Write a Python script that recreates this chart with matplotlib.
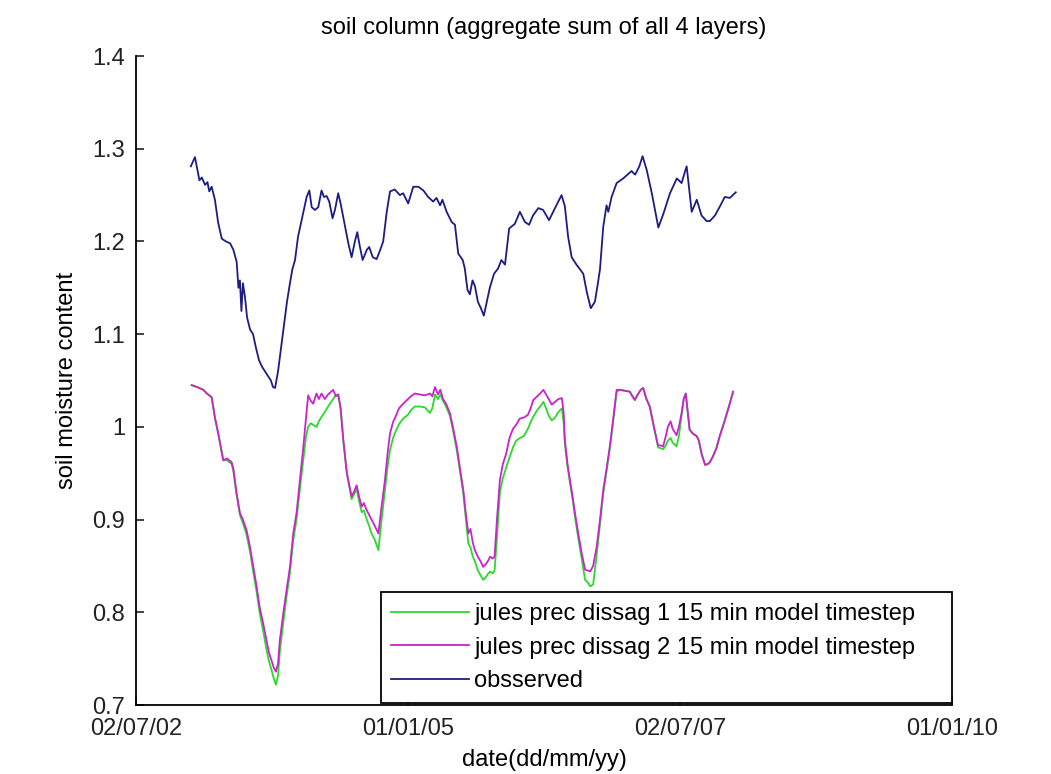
import numpy as np
import matplotlib.pyplot as plt
import matplotlib.dates as mdates

plt.rcParams['font.family'] = ['Liberation Sans', 'DejaVu Sans']

# days since 01/01/2003
obs_days = [1, 15, 30, 38, 49, 57, 63, 71, 82, 93,
            105, 119, 133, 144, 155, 161, 166, 171, 176, 183,
            190, 200, 210, 220, 230, 240, 250, 260, 270, 277,
            284, 294, 304, 314, 324, 334, 342, 351, 361, 373,
            381, 390, 399, 407, 418, 429, 440, 448, 457, 466,
            477, 485, 496, 504, 519, 530, 541, 552, 560, 569,
            578, 592, 600, 612, 625, 636, 647, 659, 670, 686,
            703, 714, 731, 748, 765, 782, 798, 815, 826, 838,
            846, 860, 877, 888, 899, 914, 921, 930, 938, 947,
            955, 965, 975, 985, 995, 1005, 1019, 1033, 1044, 1056,
            1070, 1089, 1106, 1123, 1137, 1150, 1168, 1184, 1204, 1224,
            1246, 1257, 1268, 1280, 1296, 1308, 1319, 1331, 1344, 1358,
            1368, 1375, 1386, 1397, 1403, 1414, 1431, 1453, 1481, 1493,
            1507, 1518, 1532, 1549, 1571, 1588, 1610, 1633, 1649, 1660,
            1666, 1675, 1683, 1700, 1716, 1733, 1744, 1761, 1778, 1794,
            1811, 1831]
obs_vals = [1.281, 1.291, 1.266, 1.269, 1.261, 1.264, 1.254, 1.259, 1.245, 1.220,
            1.203, 1.200, 1.198, 1.191, 1.178, 1.150, 1.158, 1.125, 1.155, 1.140,
            1.118, 1.105, 1.100, 1.085, 1.072, 1.065, 1.060, 1.055, 1.050, 1.043,
            1.042, 1.060, 1.085, 1.110, 1.135, 1.155, 1.170, 1.180, 1.205, 1.223,
            1.235, 1.248, 1.255, 1.237, 1.234, 1.237, 1.255, 1.248, 1.249, 1.243,
            1.225, 1.234, 1.252, 1.241, 1.216, 1.198, 1.183, 1.200, 1.210, 1.194,
            1.180, 1.191, 1.194, 1.183, 1.181, 1.190, 1.200, 1.232, 1.254, 1.256,
            1.250, 1.252, 1.241, 1.259, 1.259, 1.255, 1.248, 1.243, 1.247, 1.239,
            1.245, 1.232, 1.221, 1.218, 1.187, 1.180, 1.171, 1.148, 1.143, 1.158,
            1.152, 1.135, 1.128, 1.120, 1.135, 1.150, 1.165, 1.171, 1.180, 1.175,
            1.214, 1.219, 1.232, 1.221, 1.218, 1.228, 1.236, 1.234, 1.223, 1.236,
            1.250, 1.238, 1.205, 1.183, 1.175, 1.170, 1.165, 1.145, 1.128, 1.135,
            1.155, 1.170, 1.216, 1.239, 1.232, 1.248, 1.263, 1.268, 1.276, 1.272,
            1.281, 1.292, 1.277, 1.252, 1.215, 1.230, 1.252, 1.268, 1.263, 1.275,
            1.281, 1.255, 1.232, 1.245, 1.228, 1.222, 1.222, 1.228, 1.238, 1.248,
            1.247, 1.253]

mod_days = [4, 22, 43, 55, 71, 82, 93, 110, 122, 138,
            144, 154, 166, 176, 188, 200, 211, 222, 232, 244,
            255, 263, 272, 280, 287, 294, 300, 312, 323, 334,
            345, 356, 368, 379, 388, 395, 404, 412, 423, 431,
            440, 451, 462, 479, 488, 496, 504, 513, 525, 541,
            549, 558, 566, 575, 582, 592, 600, 608, 619, 631,
            640, 653, 663, 670, 680, 690, 700, 714, 730, 740,
            753, 770, 787, 804, 812, 821, 831, 839, 848, 858,
            871, 881, 894, 905, 916, 925, 933, 940, 948, 955,
            965, 974, 983, 992, 1000, 1006, 1015, 1021, 1029, 1039,
            1049, 1059, 1072, 1083, 1093, 1106, 1119, 1133, 1142, 1151,
            1164, 1174, 1185, 1194, 1203, 1213, 1224, 1235, 1247, 1253,
            1257, 1266, 1274, 1283, 1291, 1302, 1314, 1325, 1335, 1342,
            1352, 1364, 1375, 1386, 1397, 1408, 1420, 1431, 1442, 1459,
            1475, 1484, 1492, 1502, 1512, 1520, 1531, 1542, 1556, 1570,
            1579, 1587, 1596, 1603, 1612, 1619, 1632, 1640, 1649, 1656,
            1663, 1670, 1676, 1686, 1700, 1707, 1717, 1728, 1737, 1744,
            1754, 1766, 1777, 1794, 1808, 1822]
dissag1_vals = [1.045, 1.043, 1.040, 1.036, 1.032, 1.010, 0.993, 0.964, 0.964, 0.960,
                0.952, 0.928, 0.905, 0.896, 0.884, 0.865, 0.843, 0.822, 0.800, 0.780,
                0.760, 0.748, 0.738, 0.728, 0.722, 0.732, 0.758, 0.790, 0.818, 0.843,
                0.878, 0.900, 0.935, 0.965, 0.990, 1.000, 1.004, 1.002, 1.000, 1.006,
                1.011, 1.016, 1.022, 1.030, 1.034, 1.035, 1.020, 0.986, 0.950, 0.922,
                0.927, 0.933, 0.920, 0.908, 0.910, 0.900, 0.893, 0.885, 0.878, 0.867,
                0.895, 0.932, 0.960, 0.975, 0.988, 0.996, 1.003, 1.009, 1.013, 1.018,
                1.022, 1.022, 1.021, 1.015, 1.020, 1.035, 1.030, 1.035, 1.028, 1.022,
                1.012, 0.997, 0.975, 0.952, 0.928, 0.900, 0.874, 0.870, 0.860, 0.855,
                0.845, 0.840, 0.835, 0.838, 0.842, 0.844, 0.842, 0.845, 0.880, 0.930,
                0.945, 0.955, 0.968, 0.978, 0.985, 0.988, 0.990, 0.998, 1.005, 1.011,
                1.018, 1.022, 1.027, 1.020, 1.012, 1.007, 1.010, 1.016, 1.020, 1.005,
                0.982, 0.957, 0.940, 0.922, 0.903, 0.880, 0.857, 0.835, 0.832, 0.828,
                0.830, 0.862, 0.895, 0.928, 0.952, 0.976, 1.008, 1.038, 1.040, 1.039,
                1.038, 1.033, 1.029, 1.035, 1.040, 1.042, 1.030, 1.022, 1.000, 0.978,
                0.977, 0.976, 0.980, 0.985, 0.988, 0.983, 0.979, 0.990, 1.012, 1.030,
                1.036, 1.015, 0.997, 0.993, 0.990, 0.985, 0.970, 0.959, 0.960, 0.962,
                0.968, 0.977, 0.990, 1.007, 1.022, 1.038]
dissag2_vals = [1.045, 1.043, 1.040, 1.036, 1.032, 1.010, 0.993, 0.964, 0.966, 0.962,
                0.955, 0.930, 0.907, 0.900, 0.889, 0.870, 0.849, 0.828, 0.806, 0.788,
                0.770, 0.757, 0.748, 0.740, 0.736, 0.745, 0.770, 0.800, 0.825, 0.849,
                0.885, 0.907, 0.945, 0.979, 1.010, 1.034, 1.028, 1.025, 1.036, 1.030,
                1.036, 1.030, 1.035, 1.040, 1.033, 1.035, 1.020, 0.986, 0.950, 0.925,
                0.930, 0.937, 0.925, 0.914, 0.918, 0.910, 0.905, 0.900, 0.893, 0.885,
                0.910, 0.943, 0.975, 0.993, 1.005, 1.012, 1.020, 1.025, 1.030, 1.033,
                1.036, 1.035, 1.034, 1.036, 1.033, 1.043, 1.035, 1.040, 1.030, 1.025,
                1.015, 1.000, 0.979, 0.955, 0.932, 0.905, 0.885, 0.890, 0.875, 0.867,
                0.860, 0.855, 0.849, 0.852, 0.856, 0.860, 0.858, 0.860, 0.900, 0.943,
                0.960, 0.970, 0.989, 0.998, 1.002, 1.009, 1.010, 1.013, 1.020, 1.029,
                1.033, 1.036, 1.040, 1.035, 1.030, 1.024, 1.027, 1.030, 1.031, 1.015,
                0.986, 0.960, 0.943, 0.925, 0.907, 0.885, 0.863, 0.846, 0.845, 0.844,
                0.850, 0.871, 0.900, 0.932, 0.955, 0.979, 1.010, 1.040, 1.040, 1.039,
                1.038, 1.033, 1.029, 1.035, 1.040, 1.042, 1.030, 1.022, 1.000, 0.980,
                0.980, 0.979, 0.990, 1.000, 1.006, 0.998, 0.991, 1.000, 1.015, 1.030,
                1.036, 1.015, 0.997, 0.993, 0.990, 0.985, 0.970, 0.959, 0.960, 0.962,
                0.968, 0.977, 0.990, 1.007, 1.022, 1.038]

labels = ['jules prec dissag 1 15 min model timestep',
          'jules prec dissag 2 15 min model timestep',
          'obsserved']
tick_dates = ['2002-07-02', '2005-01-01', '2007-07-02', '2010-01-01']

start = np.datetime64('2003-01-01')
obs_t = start + np.array(obs_days).astype('timedelta64[D]')
mod_t = start + np.array(mod_days).astype('timedelta64[D]')

fig = plt.figure(figsize=(10.51, 7.74), dpi=100)
ax = fig.add_axes([0.1294, 0.0891, 0.7764, 0.8385])

ax.plot(mod_t, dissag1_vals, color='#2bd92b', lw=1.3, label=labels[0])
ax.plot(mod_t, dissag2_vals, color='#cc22cc', lw=1.3, label=labels[1])
ax.plot(obs_t, obs_vals, color='#1c1c84', lw=1.3, label=labels[2])

ticks = np.array(tick_dates, dtype='datetime64[D]')
ax.set_xlim(ticks[0], ticks[-1])
ax.set_xticks(ticks)
ax.xaxis.set_major_formatter(mdates.DateFormatter('%d/%m/%y'))
ax.set_ylim(0.7, 1.4)
ax.set_yticks([0.7, 0.8, 0.9, 1.0, 1.1, 1.2, 1.3, 1.4])
ax.set_yticklabels(['0.7', '0.8', '0.9', '1', '1.1', '1.2', '1.3', '1.4'])

for s in ['top', 'right']:
    ax.spines[s].set_visible(False)
for s in ['left', 'bottom']:
    ax.spines[s].set_linewidth(1.3)
ax.tick_params(direction='in', length=6, width=1.2, labelsize=17, colors='#222222')
ax.tick_params(axis='x', pad=9)
ax.tick_params(axis='y', pad=8)

ax.set_xlabel('date(dd/mm/yy)', fontsize=17, labelpad=7)
ax.set_ylabel('soil moisture content', fontsize=17, labelpad=10)
ax.set_title('soil column (aggregate sum of all 4 layers)', fontsize=17, pad=16)

leg = ax.legend(loc='lower right', bbox_to_anchor=(0.3, 0.003, 0.7, 0.2), mode='expand',
                fontsize=17, frameon=True, fancybox=False, framealpha=1,
                edgecolor='black', handlelength=3.3, handletextpad=0.2,
                labelspacing=0.5, borderpad=0.45, borderaxespad=0)
leg.get_frame().set_linewidth(1.3)

fig.savefig('out.png', dpi=100)
